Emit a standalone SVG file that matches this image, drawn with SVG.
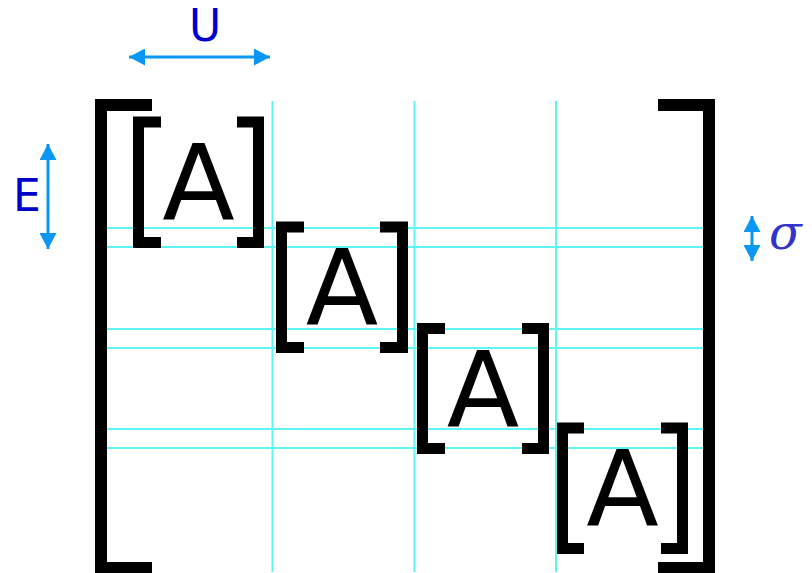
<svg xmlns="http://www.w3.org/2000/svg" width="812" height="573" viewBox="0 0 812 573">
  <style>
    .grid { stroke: #5ff5f5; stroke-width: 2; fill: none; }
    .big { stroke: #000; stroke-width: 12; fill: none; stroke-linejoin: miter; stroke-linecap: butt; }
    .br { stroke: #000; stroke-width: 11; fill: none; stroke-linejoin: miter; stroke-linecap: butt; }
    .a { font-family: "DejaVu Sans", sans-serif; font-size: 106px; fill: #000; text-anchor: middle; }
    .dim { stroke: #0a96f5; stroke-width: 3; fill: none; marker-start: url(#ah); marker-end: url(#ah); }
    .lbl { font-family: "DejaVu Sans", sans-serif; font-size: 44px; fill: #0000cc; text-anchor: middle; }
  </style>
  <defs>
    <marker id="ah" markerUnits="userSpaceOnUse" viewBox="0 0 16 17" markerWidth="16" markerHeight="17" refX="16" refY="8.5" orient="auto-start-reverse">
      <path d="M0,0 L16,8.5 L0,17 z" fill="#0a96f5"/>
    </marker>
  </defs>
  <rect width="812" height="573" fill="#fff"/>
  <g id="grid">
    <line class="grid" x1="272.5" y1="101" x2="272.5" y2="572"/>
    <line class="grid" x1="414.5" y1="101" x2="414.5" y2="572"/>
    <line class="grid" x1="556" y1="101" x2="556" y2="572"/>
    <line class="grid" x1="107" y1="228" x2="703" y2="228"/>
    <line class="grid" x1="107" y1="247" x2="703" y2="247"/>
    <line class="grid" x1="107" y1="329" x2="703" y2="329"/>
    <line class="grid" x1="107" y1="348" x2="703" y2="348"/>
    <line class="grid" x1="107" y1="429" x2="703" y2="429"/>
    <line class="grid" x1="107" y1="448" x2="703" y2="448"/>
  </g>
  <g id="matrix">
    <path class="big" d="M152 105 H101 V568 H152"/>
    <path class="big" d="M658 105 H709 V568 H658"/>
  </g>
  <g id="block1">
    <path class="br" d="M161 122 H138.5 V242.5 H161"/>
    <path class="br" d="M237 122 H258.5 V242.5 H237"/>
    <text class="a" x="198.5" y="220">A</text>
  </g>
  <g id="block2">
    <path class="br" d="M304 227 H281.5 V347.5 H304"/>
    <path class="br" d="M380 227 H402.5 V347.5 H380"/>
    <text class="a" x="342" y="325">A</text>
  </g>
  <g id="block3">
    <path class="br" d="M445 328.5 H422.5 V448.5 H445"/>
    <path class="br" d="M522 328.5 H543.5 V448.5 H522"/>
    <text class="a" x="483" y="427">A</text>
  </g>
  <g id="block4">
    <path class="br" d="M584 428 H562.5 V548.5 H584"/>
    <path class="br" d="M661 428 H682.5 V548.5 H661"/>
    <text class="a" x="622.5" y="526">A</text>
  </g>
  <g id="connectors">
    <line class="dim" x1="129" y1="57" x2="270" y2="57"/>
    <line class="dim" x1="48" y1="144" x2="48" y2="249"/>
    <line class="dim" x1="752" y1="216" x2="752" y2="261"/>
  </g>
  <g id="labels">
    <text class="lbl" x="205" y="41" font-size="45">U</text>
    <text class="lbl" x="27" y="211">E</text>
    <text x="769" y="249" font-family="'DejaVu Serif', serif" font-style="italic" font-size="48" fill="#3333cc">σ</text>
  </g>
</svg>
